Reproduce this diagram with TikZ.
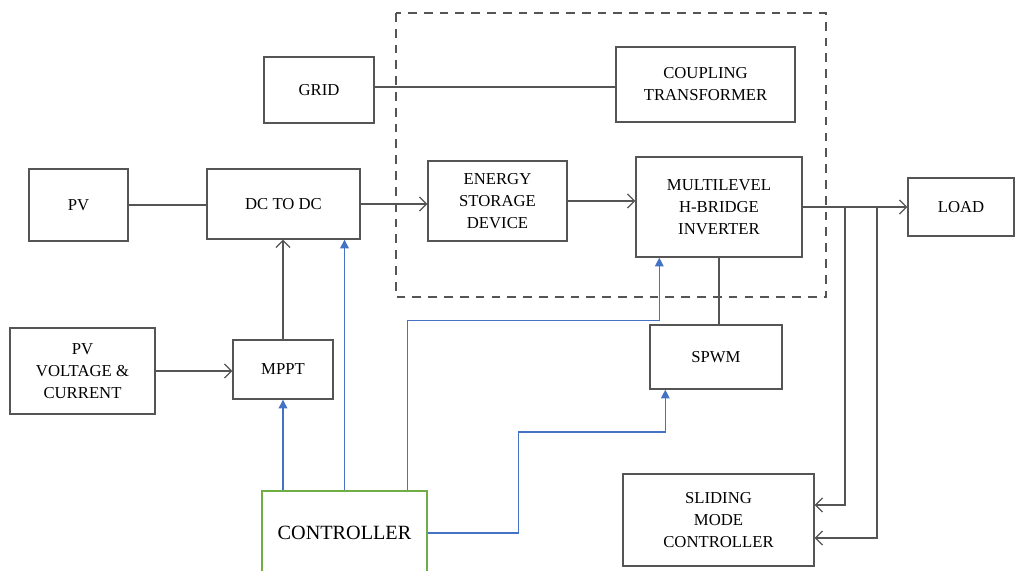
\documentclass[tikz,border=0pt]{standalone}
\usepackage{fontspec}
\setmainfont{Liberation Serif}
\usetikzlibrary{arrows.meta}

\definecolor{linegray}{RGB}{85,85,85}
\definecolor{sigblue}{RGB}{68,114,196}
\definecolor{ctrlgreen}{RGB}{112,173,71}

\begin{document}
\begin{tikzpicture}[x=0.02cm, y=-0.02cm,
        blk/.style={draw=linegray, line width=0.8pt, align=center, inner sep=1pt, font=\fontsize{9.5}{12.5}\selectfont},
        wire/.style={draw=linegray, line width=0.7pt},
        feed/.style={wire, -{Straight Barb[length=4pt,width=8pt]}},
        sig/.style={draw=sigblue, line width=0.7pt, -{Triangle[length=5pt,width=5pt]}}]
        \useasboundingbox (0,0) rectangle (1018,571);
        \draw[linegray, line width=0.7pt, dash pattern=on 5pt off 4pt] (396,13) rectangle (826,297);   % inverter part

        \node[blk, minimum width=2.2cm, minimum height=1.32cm] (grid) at (319,90) {GRID};
        \node[blk, minimum width=3.58cm, minimum height=1.5cm] (coup) at (705.5,84.5) {COUPLING\\TRANSFORMER};
        \node[blk, minimum width=1.98cm, minimum height=1.44cm] (pv) at (78.5,205) {PV};
        \node[blk, minimum width=3.06cm, minimum height=1.4cm] (dcdc) at (283.5,204) {DC TO DC};
        \node[blk, minimum width=2.78cm, minimum height=1.6cm] (esd) at (497.5,201) {ENERGY\\STORAGE\\DEVICE};
        \node[blk, minimum width=3.32cm, minimum height=2cm] (mhbi) at (719,207) {MULTILEVEL\\H-BRIDGE\\INVERTER};
        \node[blk, minimum width=2.12cm, minimum height=1.16cm] (load) at (961,207) {LOAD};
        \node[blk, minimum width=2.9cm, minimum height=1.72cm] (pvvc) at (82.5,371) {PV\\VOLTAGE \&\\CURRENT};
        \node[blk, minimum width=2cm, minimum height=1.18cm] (mppt) at (283,369.5) {MPPT};
        \node[blk, minimum width=2.64cm, minimum height=1.28cm] (spwm) at (716,357) {SPWM};
        \node[blk, minimum width=3.82cm, minimum height=1.84cm] (smc) at (718.5,520) {SLIDING\\MODE\\CONTROLLER};
        \node[blk, draw=ctrlgreen, minimum width=3.3cm, minimum height=1.68cm, font=\fontsize{11.5}{14}\selectfont] (ctrl) at (344.5,533) {CONTROLLER};

        % power path
        \draw[wire] ([yshift=0.06cm]grid.east) -- ([yshift=0.06cm]grid.east -| coup.west);
        \draw[wire] (pv.east) -- (pv.east -| dcdc.west);
        \draw[feed] (dcdc.east) -- (dcdc.east -| esd.west);
        \draw[feed] (esd.east) -- (esd.east -| mhbi.west);
        \draw[feed] (mhbi.east) -- (load.west);
        \draw[wire] (mhbi.south) -- (mhbi.south |- spwm.north);
        \draw[feed] (pvvc.east) -- (pvvc.east -| mppt.west);
        \draw[feed] (mppt.north) -- (mppt.north |- dcdc.south);

        % feedback to sliding mode controller
        \coordinate (b1) at (845,207);
        \coordinate (b2) at (877,207);
        \draw[feed] (b1) |- ([yshift=0.3cm]smc.east);
        \draw[feed] (b2) |- ([yshift=-0.36cm]smc.east);

        % control signals
        \draw[sig] (ctrl.north -| mppt.south) -- (mppt.south);
        \draw[sig] (ctrl.north) -- (ctrl.north |- dcdc.south);
        \draw[sig] ([xshift=-0.4cm]ctrl.north east) -- ++(0,-170) -| ([xshift=0.48cm]mhbi.south west);
        \draw[sig] (ctrl.east) -- ++(91,0) -- ++(0,-101) -| ([xshift=0.32cm]spwm.south west);
\end{tikzpicture}
\end{document}
